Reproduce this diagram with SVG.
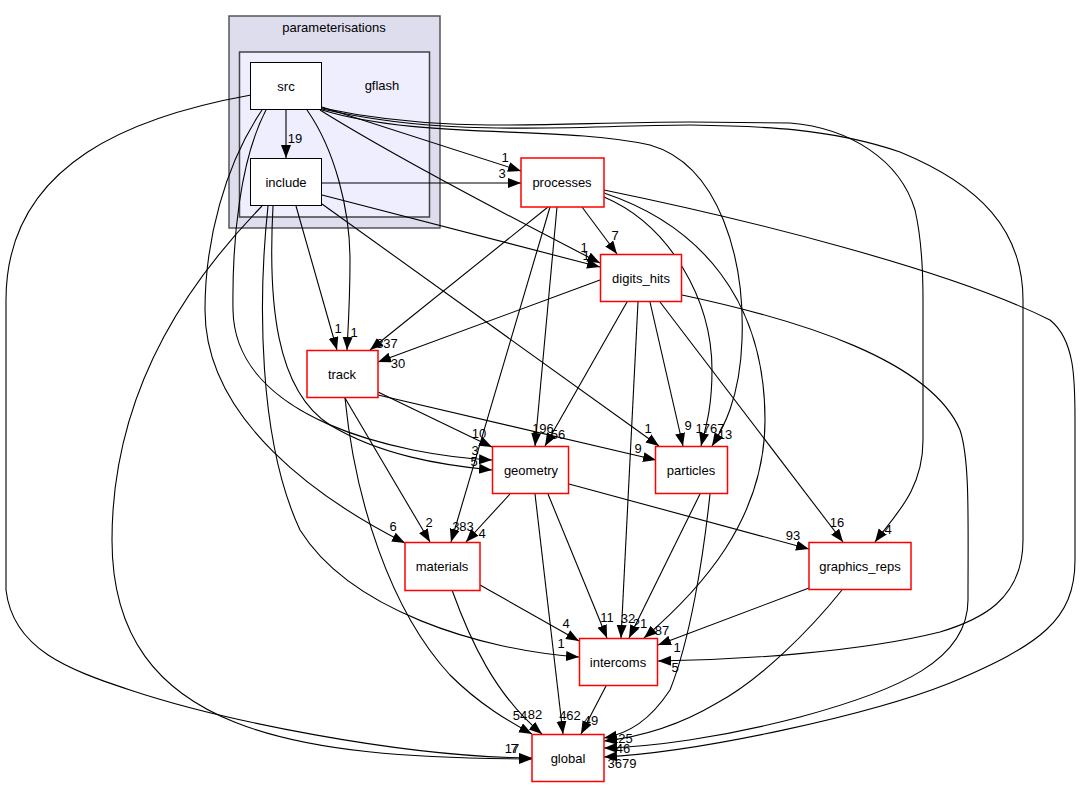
<svg xmlns="http://www.w3.org/2000/svg" width="1080" height="788" viewBox="0 0 1080 788">
<defs>
<marker id="arr" markerUnits="userSpaceOnUse" markerWidth="15" markerHeight="11" refX="13" refY="5" orient="auto">
<path d="M0,0 L13,5 L0,10 z" fill="#000"/>
</marker>
<style>
text{font-family:"Liberation Sans",Arial,sans-serif;font-size:13px;fill:#000}
.n rect{fill:#fff;stroke:#ff0000;stroke-width:1.5}
.d rect{fill:#fff;stroke:#000;stroke-width:1}
.lbl{text-anchor:middle}
#edges path{fill:none;stroke:#000;stroke-width:1.1;marker-end:url(#arr)}
</style>
</defs>
<rect width="1080" height="788" fill="#fff"/>
<g id="cluster-parameterisations">
<rect x="229" y="16" width="211" height="212" fill="#ddddee" stroke="#555" stroke-width="1.5"/>
<text x="334" y="32" class="lbl">parameterisations</text>
</g>
<g id="cluster-gflash">
<rect x="239.5" y="52" width="190" height="165" fill="#eeeeff" stroke="#444" stroke-width="1.5"/>
<text x="382" y="90" class="lbl">gflash</text>
</g>
<g id="edges">
<path d="M286,110 L286,158"/>
<path d="M322,107 L521,171"/>
<path d="M322,183 L521,183"/>
<path d="M320,110 C400,160 520,222 600,263"/>
<path d="M322,195 L600,267"/>
<path d="M307,110 C335,150 350,210 350,260 C350,300 348,330 347,350"/>
<path d="M296,206 L337,350"/>
<path d="M262,110 C225,165 205,240 205,310 C205,420 320,500 405,543"/>
<path d="M266,110 C240,160 232,240 233,310 C235,420 400,455 492,460"/>
<path d="M273,206 C268,300 275,390 330,425 C380,455 440,465 492,470"/>
<path d="M268,206 C258,300 258,440 300,530 C350,610 480,650 579,657"/>
<path d="M262,206 C200,270 112,380 112,540 C112,735 300,758 532,759"/>
<path d="M251,95 C140,115 6,160 6,300 L6,590 C13,650 70,670 130,690 C220,720 400,757 532,758"/>
<path d="M548,207 L370,350"/>
<path d="M600,280 L378,362"/>
<path d="M550,207 L451,542"/>
<path d="M557,207 L535,446"/>
<path d="M627,302 L545,446"/>
<path d="M378,392 L492,447"/>
<path d="M378,395 L656,460"/>
<path d="M322,204 L659,446"/>
<path d="M650,302 L683,446"/>
<path d="M604,197 C670,225 712,300 712,370 C712,410 705,430 701,446"/>
<path d="M322,110 C420,140 560,125 650,145 C720,165 745,260 742,340 C740,400 722,430 712,446"/>
<path d="M604,193 C700,225 765,300 765,420 C765,520 700,590 644,638"/>
<path d="M582,207 L617,254"/>
<path d="M604,190 C750,220 950,270 1050,320 C1075,340 1075,380 1075,420 L1075,560 C1075,620 1040,645 950,683 C870,715 700,752 604,757"/>
<path d="M682,295 C800,320 930,360 960,430 C970,460 968,520 968,600 C968,660 900,690 800,717 C720,738 650,747 604,748"/>
<path d="M842,590 C810,630 760,680 717,703 C680,725 640,737 604,741"/>
<path d="M710,494 C703,560 690,640 670,690 C650,720 630,733 604,738"/>
<path d="M322,108 C450,135 550,122 690,122 L790,123 C850,128 900,160 915,210 C922,240 923,270 923,300 L923,440 C923,490 895,515 875,542"/>
<path d="M322,109 C450,138 560,126 690,125 C760,126 830,128 900,152 C980,185 1023,230 1023,300 L1023,540 C1023,600 980,620 940,632 C860,652 740,660 658,661"/>
<path d="M510,494 L466,542"/>
<path d="M345,398 L430,542"/>
<path d="M345,398 C355,500 390,610 450,675 C480,705 510,722 532,734"/>
<path d="M452,590 C470,640 495,695 542,734"/>
<path d="M535,494 L563,734"/>
<path d="M606,686 L581,734"/>
<path d="M548,494 L607,638"/>
<path d="M638,302 L621,638"/>
<path d="M700,494 L629,638"/>
<path d="M480,585 L579,641"/>
<path d="M809,588 L658,645"/>
<path d="M569,484 L809,549"/>
<path d="M660,302 L843,542"/>
</g>
<g id="edge-labels">
<text class="lbl" x="295" y="143">19</text>
<text class="lbl" x="505" y="162">1</text>
<text class="lbl" x="502" y="178">3</text>
<text class="lbl" x="584" y="252">1</text>
<text class="lbl" x="586" y="260">1</text>
<text class="lbl" x="615" y="240">7</text>
<text class="lbl" x="338" y="333">1</text>
<text class="lbl" x="354" y="337">1</text>
<text class="lbl" x="387" y="348">337</text>
<text class="lbl" x="398" y="368">30</text>
<text class="lbl" x="479" y="438">10</text>
<text class="lbl" x="475" y="455">3</text>
<text class="lbl" x="474" y="466">5</text>
<text class="lbl" x="543" y="433">196</text>
<text class="lbl" x="558" y="439">56</text>
<text class="lbl" x="648" y="433">1</text>
<text class="lbl" x="638" y="453">9</text>
<text class="lbl" x="688" y="430">9</text>
<text class="lbl" x="710" y="433">1767</text>
<text class="lbl" x="725" y="439">13</text>
<text class="lbl" x="393" y="531">6</text>
<text class="lbl" x="429" y="527">2</text>
<text class="lbl" x="463" y="531">383</text>
<text class="lbl" x="482" y="538">4</text>
<text class="lbl" x="793" y="540">93</text>
<text class="lbl" x="837" y="527">16</text>
<text class="lbl" x="888" y="534">4</text>
<text class="lbl" x="566" y="628">4</text>
<text class="lbl" x="561" y="648">1</text>
<text class="lbl" x="607" y="622">11</text>
<text class="lbl" x="628" y="623">32</text>
<text class="lbl" x="640" y="628">21</text>
<text class="lbl" x="662" y="635">87</text>
<text class="lbl" x="677" y="652">1</text>
<text class="lbl" x="675" y="672">5</text>
<text class="lbl" x="520" y="720">54</text>
<text class="lbl" x="535" y="719">82</text>
<text class="lbl" x="570" y="720">462</text>
<text class="lbl" x="591" y="725">49</text>
<text class="lbl" x="512" y="753">17</text>
<text class="lbl" x="514" y="753">7</text>
<text class="lbl" x="622" y="743">125</text>
<text class="lbl" x="623" y="753">46</text>
<text class="lbl" x="622" y="768">3679</text>
</g>
<g id="node-src" class="d"><rect x="250.5" y="62.5" width="71" height="47"/><text class="lbl" x="286" y="91">src</text></g>
<g id="node-include" class="d"><rect x="250.5" y="158.5" width="71" height="47"/><text class="lbl" x="286" y="187">include</text></g>
<g id="node-processes" class="n"><rect x="521" y="158" width="83" height="49"/><text class="lbl" x="562" y="187">processes</text></g>
<g id="node-digits_hits" class="n"><rect x="600.5" y="254.5" width="81" height="47"/><text class="lbl" x="641" y="283">digits_hits</text></g>
<g id="node-track" class="n"><rect x="307" y="350.5" width="71" height="47"/><text class="lbl" x="342" y="379">track</text></g>
<g id="node-geometry" class="n"><rect x="492.5" y="446.5" width="76" height="47"/><text class="lbl" x="531" y="475">geometry</text></g>
<g id="node-particles" class="n"><rect x="655.5" y="446.5" width="72" height="47"/><text class="lbl" x="691" y="475">particles</text></g>
<g id="node-materials" class="n"><rect x="405" y="542.5" width="75" height="48"/><text class="lbl" x="442" y="571">materials</text></g>
<g id="node-graphics_reps" class="n"><rect x="809" y="542.5" width="102" height="47"/><text class="lbl" x="860" y="571">graphics_reps</text></g>
<g id="node-intercoms" class="n"><rect x="579.5" y="638.5" width="78" height="47"/><text class="lbl" x="618" y="667">intercoms</text></g>
<g id="node-global" class="n"><rect x="532" y="734.5" width="72" height="47"/><text class="lbl" x="568" y="763">global</text></g>
</svg>
